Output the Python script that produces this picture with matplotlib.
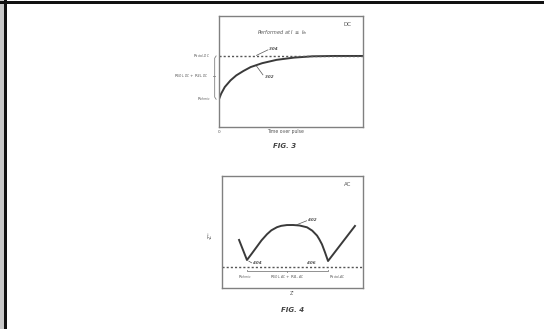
import matplotlib
matplotlib.use("Agg")
import matplotlib.pyplot as plt
from matplotlib.patches import Rectangle

# FIG. 3 (DC) data
dc_time = [0, 1.5, 4, 8, 12, 17, 22, 30, 40, 52, 65, 80, 100]
dc_res = [0.25, 0.30, 0.36, 0.42, 0.465, 0.505, 0.54, 0.575, 0.605, 0.625, 0.637, 0.64, 0.64]
dc_total = 0.64
dc_ohmic = 0.25

# FIG. 4 (AC) data: Z' vs -Z''
ac_zre = [0.121, 0.177, 0.21, 0.248, 0.28, 0.319, 0.35, 0.39, 0.42, 0.46, 0.504, 0.55, 0.603, 0.64,
          0.674, 0.69, 0.709, 0.73, 0.752, 0.943]
ac_zim = [0.429, 0.25, 0.305, 0.37, 0.425, 0.48, 0.515, 0.543, 0.555, 0.562, 0.5625, 0.558, 0.542, 0.512,
          0.468, 0.435, 0.39, 0.32, 0.241, 0.554]
ac_baseline = 0.1875

txt = "#555555"
line = "#3a3a3a"
frame = "#808080"

fig = plt.figure(figsize=(5.44, 3.29), dpi=100)
fig.patch.set_facecolor("white")

# page border
fig.add_artist(Rectangle((0, 0), 4/544, 1, transform=fig.transFigure, color="#c8c8c8", lw=0))
fig.add_artist(Rectangle((4/544, 0), 2.5/544, 1, transform=fig.transFigure, color="#111111", lw=0))
fig.add_artist(Rectangle((0, 1-3.5/329), 1, 2.5/329, transform=fig.transFigure, color="#111111", lw=0))

def style(ax):
    ax.set_xticks([]); ax.set_yticks([])
    for s in ax.spines.values():
        s.set_color(frame); s.set_linewidth(1.0)

# ---- FIG 3 ----
ax1 = fig.add_axes([219/544, 1-127/329, 144/544, 111/329])
style(ax1)
ax1.set_xlim(0, 100); ax1.set_ylim(0, 1)
ax1.plot(dc_time, dc_res, color=line, lw=1.4, solid_capstyle="round")
ax1.axhline(dc_total, color="#555555", lw=1.0, ls=(0, (1.5, 1.5)))
ax1.text(0.89, 0.92, "DC", transform=ax1.transAxes, fontsize=4, color=txt, ha="center", va="center")
ax1.text(0.44, 0.85, r"Performed at I $\leq$ I$_{th}$", transform=ax1.transAxes, fontsize=3.5,
         color=txt, ha="center", va="center", style="italic")
ax1.text(0.38, 0.70, "304", transform=ax1.transAxes, fontsize=3, color=txt, ha="center", va="center", style="italic", weight="bold")
ax1.plot([26, 34], [0.645, 0.695], color=txt, lw=0.5)
ax1.text(0.35, 0.45, "302", transform=ax1.transAxes, fontsize=3, color=txt, ha="center", va="center", style="italic", weight="bold")
ax1.plot([26, 30.5], [0.55, 0.47], color=txt, lw=0.5)

# left labels
tr = ax1.get_yaxis_transform()
ax1.text(-0.06, dc_total, r"R$_{total,DC}$", transform=tr, fontsize=3, color=txt, ha="right", va="center")
ax1.text(-0.075, (dc_total+dc_ohmic)/2+0.01, r"R$_{SOL,DC}$ + R$_{EL,DC}$", transform=tr, fontsize=3, color=txt, ha="right", va="center")
ax1.text(-0.06, dc_ohmic, r"R$_{ohmic}$", transform=tr, fontsize=3, color=txt, ha="right", va="center")
# brace
bx = -0.03
ax1.plot([bx+0.01, bx, bx, bx+0.01], [dc_total, dc_total-0.02, dc_ohmic+0.02, dc_ohmic], transform=tr, color=frame, lw=0.6, clip_on=False)
ax1.plot([bx, bx-0.015], [(dc_total+dc_ohmic)/2+0.01]*2, transform=tr, color=frame, lw=0.6, clip_on=False)
ax1.text(0, -0.045, "0", transform=ax1.transAxes, fontsize=3, color=txt, ha="center", va="center")
ax1.text(0.46, -0.045, "Time over pulse", transform=ax1.transAxes, fontsize=3.3, color=txt, ha="center", va="center")
fig.text(285/544, 1-146/329, "FIG. 3", fontsize=5, color="#444444", ha="center", va="center", style="italic", weight="bold")

# ---- FIG 4 ----
ax2 = fig.add_axes([222/544, 1-288/329, 141/544, 112/329])
style(ax2)
ax2.set_xlim(0, 1); ax2.set_ylim(0, 1)
ax2.plot(ac_zre, ac_zim, color=line, lw=1.4, solid_joinstyle="round")
ax2.axhline(ac_baseline, color="#555555", lw=1.0, ls=(0, (1.5, 1.5)))
ax2.text(0.89, 0.92, "AC", transform=ax2.transAxes, fontsize=4, color=txt, ha="center", va="center")
ax2.text(0.64, 0.61, "402", transform=ax2.transAxes, fontsize=3, color=txt, ha="center", va="center", style="italic", weight="bold")
ax2.plot([0.53, 0.6], [0.565, 0.6], color=txt, lw=0.5)
ax2.text(0.25, 0.225, "404", transform=ax2.transAxes, fontsize=3, color=txt, ha="center", va="center", style="italic", weight="bold")
ax2.plot([0.19, 0.21], [0.24, 0.225], color=txt, lw=0.5)
ax2.text(0.63, 0.225, "406", transform=ax2.transAxes, fontsize=3, color=txt, ha="center", va="center", style="italic", weight="bold")
# brace under baseline
ax2.plot([0.177, 0.177, 0.752, 0.752], [0.165, 0.155, 0.155, 0.165], color=frame, lw=0.6)
ax2.plot([0.46, 0.46], [0.155, 0.14], color=frame, lw=0.6)
ax2.text(0.16, 0.10, r"R$_{ohmic}$", transform=ax2.transAxes, fontsize=3, color=txt, ha="center", va="center")
ax2.text(0.46, 0.10, r"R$_{SOL,AC}$ + R$_{EL,AC}$", transform=ax2.transAxes, fontsize=3, color=txt, ha="center", va="center")
ax2.text(0.82, 0.10, r"R$_{total,AC}$", transform=ax2.transAxes, fontsize=3, color=txt, ha="center", va="center")
ax2.text(-0.085, 0.47, "-Z''", transform=ax2.transAxes, fontsize=3.3, color=txt, ha="center", va="center", rotation=90)
ax2.text(0.5, -0.045, "Z'", transform=ax2.transAxes, fontsize=3.3, color=txt, ha="center", va="center")
fig.text(293/544, 1-310/329, "FIG. 4", fontsize=5, color="#444444", ha="center", va="center", style="italic", weight="bold")

fig.savefig("out.png", dpi=100, facecolor="white")
